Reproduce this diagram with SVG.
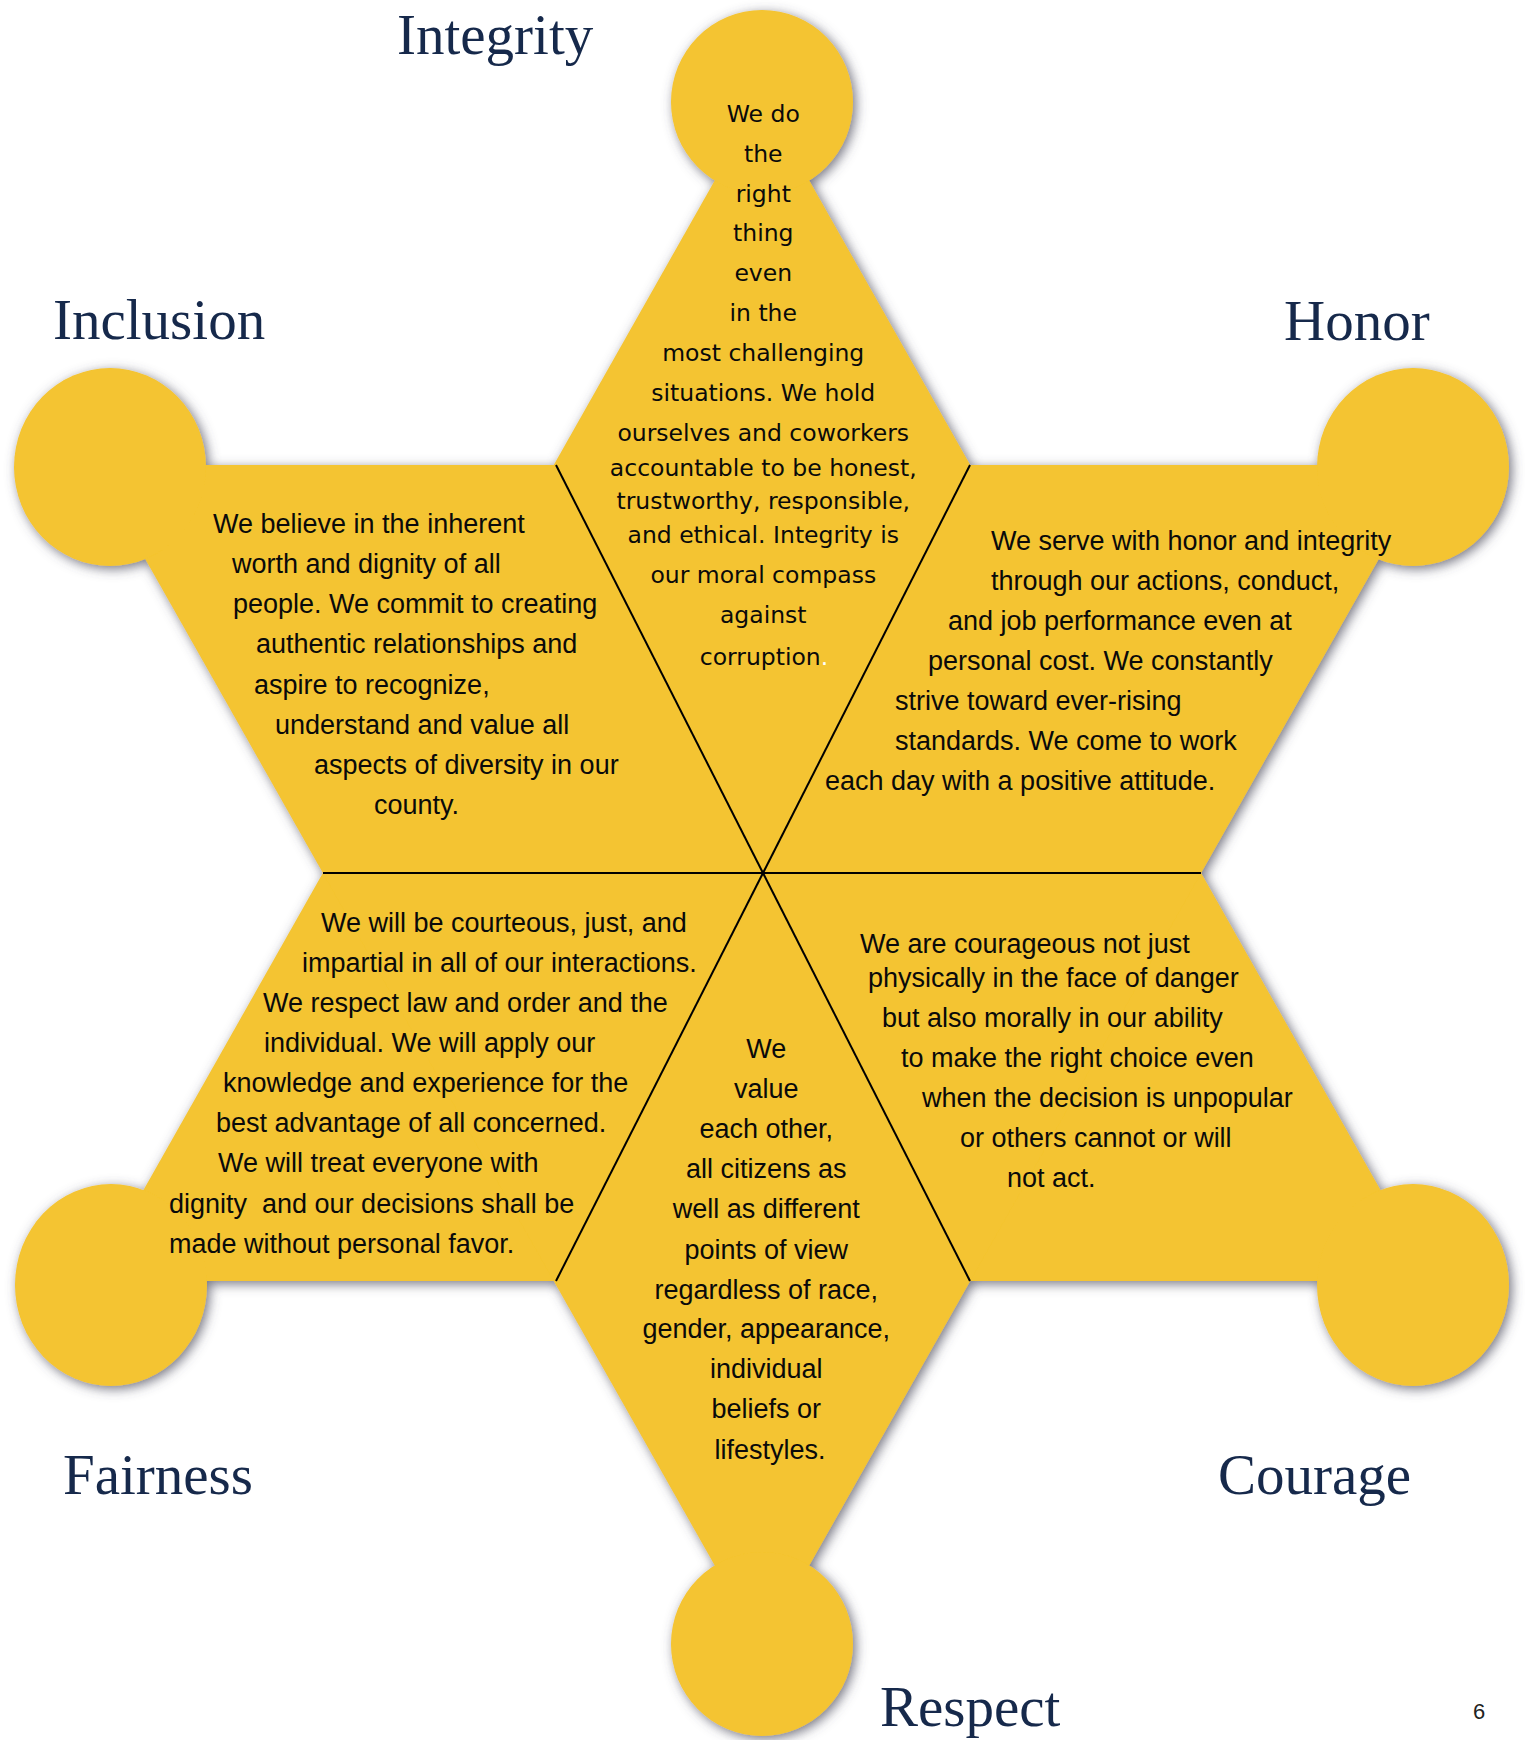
<svg xmlns="http://www.w3.org/2000/svg" width="1525" height="1740" viewBox="0 0 1525 1740">
<defs>
<style>
.lbl{font-family:"Liberation Serif","Times New Roman",serif;font-size:57px;fill:#16294b}
.body{font-family:"Liberation Sans",Arial,sans-serif;font-size:27px;fill:#0a0a0a}
.ctr{text-anchor:middle}
.integ{font-family:"DejaVu Sans",Verdana,sans-serif;font-size:23.5px;fill:#0a0a0a;text-anchor:middle}
.div{stroke:#000;stroke-width:2;fill:none}
.star{fill:#f4c430}
</style>
<filter id="sh" x="-5%" y="-5%" width="110%" height="110%">
<feGaussianBlur in="SourceAlpha" stdDeviation="6"/>
<feOffset dx="3" dy="3" result="b"/>
<feFlood flood-color="#4a4a5a" flood-opacity="0.75"/>
<feComposite in2="b" operator="in"/>
<feMerge><feMergeNode/><feMergeNode in="SourceGraphic"/></feMerge>
</filter>
</defs>
<rect width="1525" height="1740" fill="#fff"/>
<g id="star" class="star" filter="url(#sh)">
<path d="M762,97 L1432,1281 L92,1281 Z"/>
<path d="M92,465 L1432,465 L762,1649 Z"/>
<ellipse cx="762" cy="102" rx="91" ry="92"/>
<ellipse cx="762" cy="1644" rx="91" ry="92"/>
<ellipse cx="110" cy="467" rx="96" ry="99"/>
<ellipse cx="1413" cy="467" rx="96" ry="99"/>
<ellipse cx="111" cy="1285" rx="96" ry="101"/>
<ellipse cx="1413" cy="1285" rx="96" ry="101"/>
</g>
<g id="connectors">
<line class="div" x1="323" y1="873" x2="1201" y2="873"/>
<line class="div" x1="556" y1="465" x2="970" y2="1281"/>
<line class="div" x1="970" y1="465" x2="556" y2="1281"/>
</g>
<g id="integrity">
<text class="lbl" x="397" y="54">Integrity</text>
<text class="integ">
<tspan x="767" y="122">We do</tspan>
<tspan x="767" y="162">the</tspan>
<tspan x="767" y="202">right</tspan>
<tspan x="767" y="241">thing</tspan>
<tspan x="767" y="281">even</tspan>
<tspan x="767" y="321">in the</tspan>
<tspan x="767" y="361">most challenging</tspan>
<tspan x="767" y="401">situations. We hold</tspan>
<tspan x="767" y="441">ourselves and coworkers</tspan>
<tspan x="767" y="476">accountable to be honest,</tspan>
<tspan x="767" y="509">trustworthy, responsible,</tspan>
<tspan x="767" y="543">and ethical. Integrity is</tspan>
<tspan x="767" y="583">our moral compass</tspan>
<tspan x="767" y="623">against</tspan>
<tspan x="764" y="665">corruption<tspan fill="#fff">.</tspan></tspan>
</text>
</g>
<g id="inclusion">
<text class="lbl" x="53" y="339">Inclusion</text>
<text class="body">
<tspan x="213" y="533">We believe in the inherent</tspan>
<tspan x="232" y="573">worth and dignity of all</tspan>
<tspan x="233" y="613">people. We commit to creating</tspan>
<tspan x="256" y="653">authentic relationships and</tspan>
<tspan x="254" y="694">aspire to recognize,</tspan>
<tspan x="275" y="734">understand and value all</tspan>
<tspan x="314" y="774">aspects of diversity in our</tspan>
<tspan x="374" y="814">county.</tspan>
</text>
</g>
<g id="honor">
<text class="lbl" x="1284" y="340">Honor</text>
<text class="body">
<tspan x="991" y="550">We serve with honor and integrity</tspan>
<tspan x="991" y="590">through our actions, conduct,</tspan>
<tspan x="948" y="630">and job performance even at</tspan>
<tspan x="928" y="670">personal cost. We constantly</tspan>
<tspan x="895" y="710">strive toward ever-rising</tspan>
<tspan x="895" y="750">standards. We come to work</tspan>
<tspan x="825" y="790">each day with a positive attitude.</tspan>
</text>
</g>
<g id="fairness">
<text class="lbl" x="63" y="1494">Fairness</text>
<text class="body">
<tspan x="321" y="932">We will be courteous, just, and</tspan>
<tspan x="302" y="972">impartial in all of our interactions.</tspan>
<tspan x="263" y="1012">We respect law and order and the</tspan>
<tspan x="264" y="1052">individual. We will apply our</tspan>
<tspan x="223" y="1092">knowledge and experience for the</tspan>
<tspan x="216" y="1132">best advantage of all concerned.</tspan>
<tspan x="218" y="1172">We will treat everyone with</tspan>
<tspan x="169" y="1213" xml:space="preserve">dignity  and our decisions shall be</tspan>
<tspan x="169" y="1253">made without personal favor.</tspan>
</text>
</g>
<g id="courage">
<text class="lbl" x="1218" y="1494">Courage</text>
<text class="body">
<tspan x="860" y="953">We are courageous not just</tspan>
<tspan x="868" y="987">physically in the face of danger</tspan>
<tspan x="882" y="1027">but also morally in our ability</tspan>
<tspan x="901" y="1067">to make the right choice even</tspan>
<tspan x="922" y="1107">when the decision is unpopular</tspan>
<tspan x="960" y="1147">or others cannot or will</tspan>
<tspan x="1007" y="1187">not act.</tspan>
</text>
</g>
<g id="respect">
<text class="lbl" x="880" y="1726">Respect</text>
<text class="body ctr">
<tspan x="770" y="1058">We</tspan>
<tspan x="770" y="1098">value</tspan>
<tspan x="770" y="1138">each other,</tspan>
<tspan x="770" y="1178">all citizens as</tspan>
<tspan x="770" y="1218">well as different</tspan>
<tspan x="770" y="1259">points of view</tspan>
<tspan x="770" y="1299">regardless of race,</tspan>
<tspan x="770" y="1338">gender, appearance,</tspan>
<tspan x="770" y="1378">individual</tspan>
<tspan x="770" y="1418">beliefs or</tspan>
<tspan x="770" y="1459">lifestyles.</tspan>
</text>
</g>
<text id="page" x="1473" y="1719" font-family="Liberation Sans, Arial, sans-serif" font-size="22" fill="#222">6</text>
</svg>
